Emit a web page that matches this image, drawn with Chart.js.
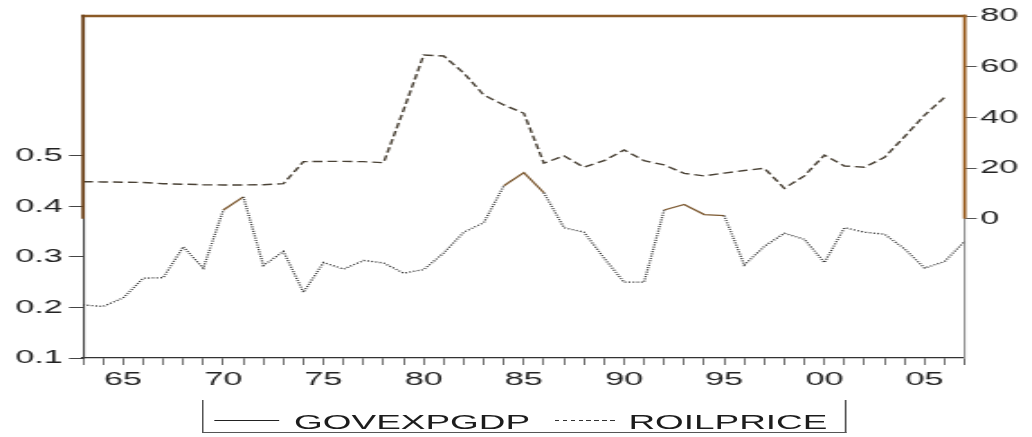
<!DOCTYPE html>
<html>
<head>
<meta charset="utf-8">
<script src="https://cdn.jsdelivr.net/npm/chart.js@4.4.1/dist/chart.umd.min.js"></script>
<style>
  html, body { margin: 0; padding: 0; background: #ffffff; width: 1032px; height: 437px; overflow: hidden; }
  #wrap { position: absolute; left: 0; top: 0; width: 573px; height: 437px; transform: scaleX(1.8011); transform-origin: 0 0; }
  #c { position: absolute; left: 0; top: 0; }
  .lg { position: absolute; font-family: "Liberation Sans", Arial, sans-serif; font-size: 20.5px; line-height: 1; color: #1c1c1c; white-space: nowrap; }
  #box { position: absolute; left: 112.2px; top: 400px; width: 356px; height: 32px; border-left: 1px solid #555; border-right: 1px solid #555; border-bottom: 1px solid #555; }
  #solid { position: absolute; left: 118.9px; top: 420px; width: 36px; height: 0; border-top: 1.2px solid #222; }
  #dash { position: absolute; left: 308.3px; top: 420px; width: 35px; height: 1.3px; background: repeating-linear-gradient(90deg, #333 0 2.6px, transparent 2.6px 4.4px); }
</style>
</head>
<body>
<div id="wrap">
  <canvas id="c" width="573" height="437" style="width:573px;height:437px"></canvas>
  <div id="box"></div>
  <div id="solid"></div>
  <div class="lg" style="left:163.3px; top:411.5px">GOVEXPGDP</div>
  <div id="dash"></div>
  <div class="lg" style="left:348.9px; top:411.5px">ROILPRICE</div>
</div>
<script>
const years = [1963,1964,1965,1966,1967,1968,1969,1970,1971,1972,1973,1974,1975,1976,1977,1978,1979,1980,1981,1982,1983,1984,1985,1986,1987,1988,1989,1990,1991,1992,1993,1994,1995,1996,1997,1998,1999,2000,2001,2002,2003,2004,2005,2006,2007];
const govexpgdp = [0.205,0.202,0.219,0.258,0.259,0.320,0.278,0.393,0.419,0.283,0.311,0.230,0.289,0.276,0.293,0.288,0.268,0.275,0.308,0.349,0.368,0.441,0.467,0.427,0.358,0.349,0.298,0.250,0.250,0.393,0.404,0.384,0.382,0.284,0.321,0.347,0.335,0.289,0.358,0.349,0.345,0.316,0.278,0.291,0.331];
const roilprice = [14.6,14.5,14.4,14.3,13.8,13.6,13.4,13.3,13.3,13.4,13.8,22.5,22.6,22.6,22.5,22.1,43.0,64.6,64.2,57.5,48.8,44.9,41.6,21.9,24.8,20.3,22.9,27.1,22.9,21.2,17.9,16.9,18.0,19.0,19.9,12.0,16.9,25.1,20.8,20.3,24.2,32.4,40.9,47.9,null];
const leftTicks = [0.1,0.2,0.3,0.4,0.5];
const rightTicks = [0,20,40,60,80];

const FONT = { family: '"Liberation Sans", Arial, sans-serif', size: 19 };

const frame = {
  id: 'frame',
  afterDraw(chart) {
    const { ctx, chartArea: a, scales } = chart;
    const yb = scales.y1.getPixelForValue(0);
    ctx.save();
    ctx.lineCap = 'butt';
    ctx.strokeStyle = '#8b5a26';
    ctx.lineWidth = 2.6;
    ctx.beginPath(); ctx.moveTo(a.left - 0.9, a.top); ctx.lineTo(a.right + 0.9, a.top); ctx.stroke();
    ctx.lineWidth = 1.8;
    ctx.strokeStyle = '#6e441c';
    ctx.beginPath(); ctx.moveTo(a.left, a.top - 1.3); ctx.lineTo(a.left, yb); ctx.stroke();
    ctx.strokeStyle = '#9a5f22';
    ctx.beginPath(); ctx.moveTo(a.right, a.top - 1.3); ctx.lineTo(a.right, yb); ctx.stroke();
    ctx.restore();
  }
};

new Chart(document.getElementById('c'), {
  type: 'line',
  data: {
    datasets: [
      {
        label: 'GOVEXPGDP',
        data: years.map((yr, i) => ({ x: yr, y: govexpgdp[i] })),
        yAxisID: 'y',
        borderColor: '#2a2a2a',
        borderWidth: 1.3,
        borderDash: [1, 1.3],
        pointRadius: 0,
        tension: 0,
        segment: {
          borderColor: c => (c.p0.parsed.y >= 0.38 && c.p1.parsed.y >= 0.38) ? '#7d5a32' : undefined,
          borderDash: c => (c.p0.parsed.y >= 0.38 && c.p1.parsed.y >= 0.38) ? [] : undefined
        }
      },
      {
        label: 'ROILPRICE',
        data: years.map((yr, i) => ({ x: yr, y: roilprice[i] })),
        yAxisID: 'y1',
        borderColor: '#4a4236',
        borderWidth: 1.4,
        borderDash: [5.5, 2.8],
        pointRadius: 0,
        tension: 0,
        spanGaps: false
      }
    ]
  },
  options: {
    responsive: false,
    animation: false,
    devicePixelRatio: 1,
    layout: { padding: { top: 16, bottom: 0, left: 0, right: 0 } },
    plugins: { legend: { display: false }, tooltip: { enabled: false } },
    scales: {
      x: {
        type: 'linear',
        min: 1963,
        max: 2007,
        afterFit: s => { s.height = 79; },
        ticks: {
          stepSize: 1,
          autoSkip: false,
          maxRotation: 0,
          padding: 3,
          color: '#222',
          font: FONT,
          callback: v => (v % 5 === 0) ? String(v % 100).padStart(2, '0') : ''
        },
        grid: { drawOnChartArea: false, drawTicks: true, tickLength: 7, tickWidth: 0.7, tickColor: '#333' },
        border: { display: true, color: '#333', width: 1.3 }
      },
      y: {
        position: 'left',
        min: 0.1,
        max: 0.777,
        afterFit: s => { s.width = 46.1; },
        afterBuildTicks: s => { s.ticks = leftTicks.map(v => ({ value: v })); },
        ticks: { padding: 3.5, color: '#222', font: FONT, callback: v => Number(v).toFixed(1) },
        grid: { drawOnChartArea: false, drawTicks: true, tickLength: 7.8, tickWidth: 1, tickColor: '#444' },
        border: { display: true, color: '#444', width: 1.1 }
      },
      y1: {
        position: 'right',
        min: -55,
        max: 80,
        afterFit: s => { s.width = 37.4; },
        afterBuildTicks: s => { s.ticks = rightTicks.map(v => ({ value: v })); },
        ticks: { padding: 2, color: '#222', font: FONT, callback: v => String(v) },
        grid: { drawOnChartArea: false, drawTicks: true, tickLength: 6.7, tickWidth: 1, tickColor: '#555' },
        border: { display: true, color: '#999', width: 1.1 }
      }
    }
  },
  plugins: [frame]
});
</script>
</body>
</html>
